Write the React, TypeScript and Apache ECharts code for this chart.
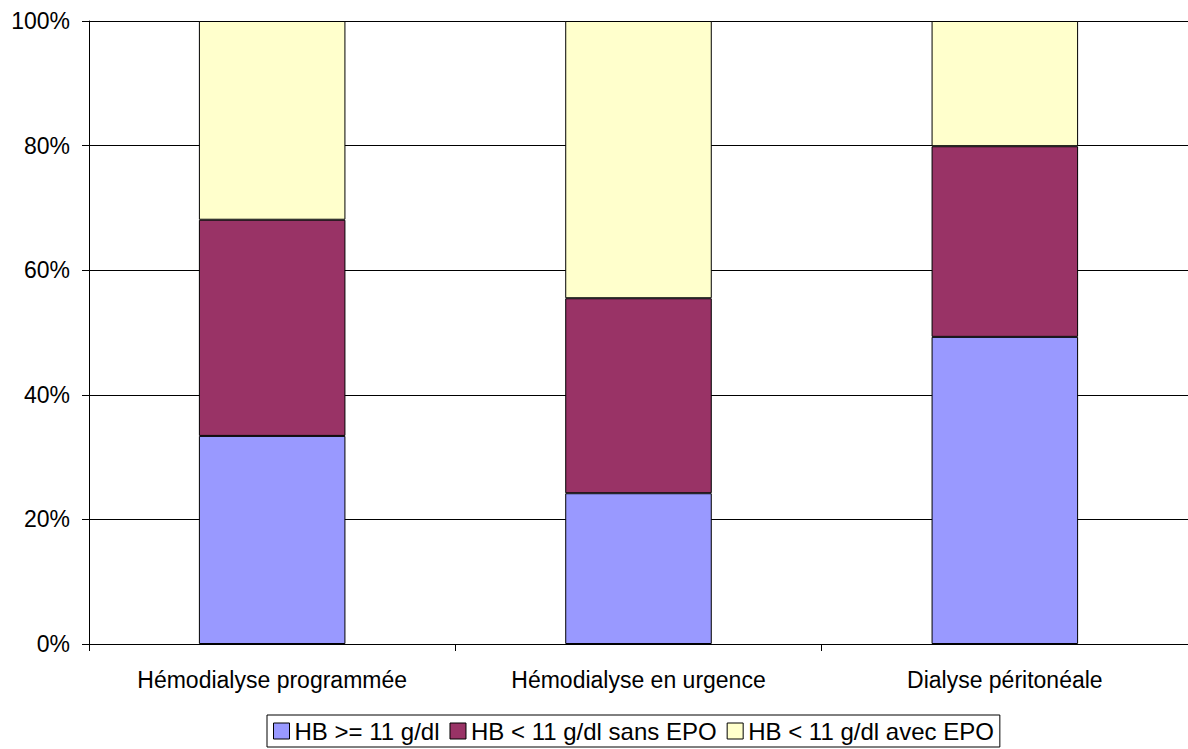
import React, { useEffect, useRef } from "react";
import * as echarts from "echarts";

const categories = ["Hémodialyse programmée", "Hémodialyse en urgence", "Dialyse péritonéale"];
const seriesNames = ["HB >= 11 g/dl", "HB < 11 g/dl sans EPO", "HB < 11 g/dl avec EPO"];
const hbHigh = [33.4, 24.2, 49.3];
const hbLowSansEpo = [34.7, 31.3, 30.6];
const hbLowAvecEpo = [31.9, 44.5, 20.1];
const colors = ["#9999FF", "#993366", "#FFFFCC"];

export default function App() {
  const ref = useRef<HTMLDivElement>(null);
  useEffect(() => {
    document.body.style.margin = "0";
    const chart = echarts.init(ref.current!, null, { renderer: "svg" });
    const font = "Arial, 'Liberation Sans', sans-serif";
    const data = [hbHigh, hbLowSansEpo, hbLowAvecEpo];
    chart.setOption({
      animation: false,
      backgroundColor: "#fff",
      textStyle: { fontFamily: font },
      grid: { left: 89, right: 0, top: 21, bottom: 105, containLabel: false },
      legend: {
        bottom: 2,
        left: 267,
        itemWidth: 16,
        itemHeight: 16,
        itemGap: 10,
        icon: "rect",
        padding: [4, 6, 4, 6],
        borderColor: "#000",
        borderWidth: 1,
        borderRadius: 0,
        textStyle: { fontSize: 24, color: "#000", fontFamily: font },
        itemStyle: { borderColor: "#000", borderWidth: 1 },
        data: seriesNames,
      },
      xAxis: {
        type: "category",
        data: categories,
        axisLine: { lineStyle: { color: "#000", width: 1 } },
        axisTick: { show: true, length: 7, lineStyle: { color: "#000" } },
        axisLabel: { fontSize: 23, color: "#000", margin: 24, fontFamily: font },
      },
      yAxis: {
        type: "value",
        min: 0,
        max: 100,
        interval: 20,
        axisLine: { show: true, lineStyle: { color: "#000", width: 1 } },
        axisTick: { show: true, length: 7, lineStyle: { color: "#000" } },
        axisLabel: { fontSize: 23, color: "#000", formatter: "{value}%", margin: 19, fontFamily: font },
        splitLine: { show: true, lineStyle: { color: "#000", width: 1 } },
      },
      series: data.map((d, i) => ({
        name: seriesNames[i],
        type: "bar",
        stack: "total",
        barWidth: "40%",
        data: d,
        itemStyle: { color: colors[i], borderColor: "#000", borderWidth: 1 },
      })),
    });
    return () => chart.dispose();
  }, []);
  return <div ref={ref} style={{ width: 1188, height: 749 }} />;
}
